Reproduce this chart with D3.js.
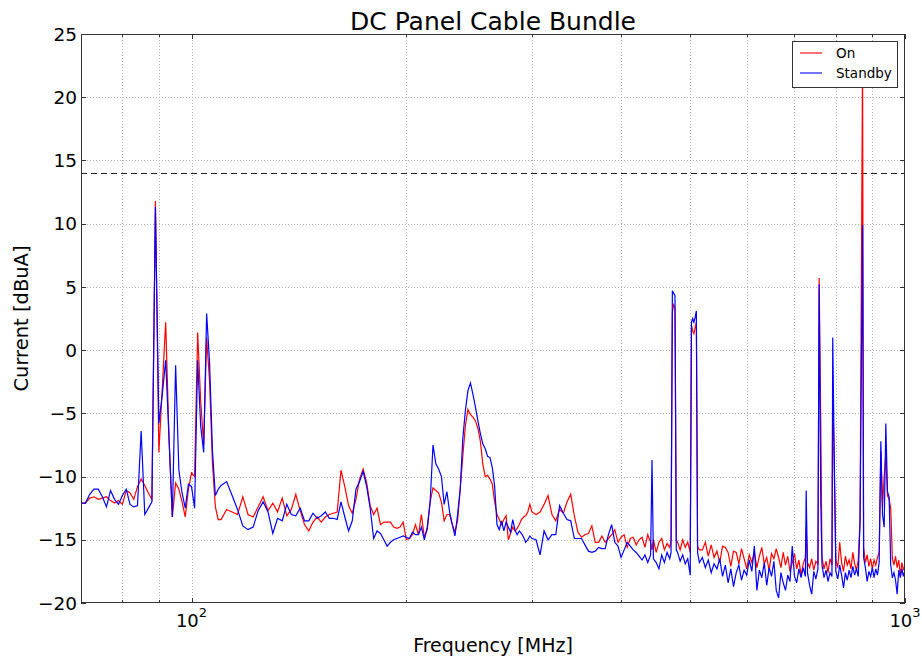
<!DOCTYPE html>
<html>
<head>
<meta charset="utf-8">
<script src="https://cdn.jsdelivr.net/npm/d3@7"></script>
<style>
  body { margin: 0; background: #fff; }
  text { font-family: "DejaVu Sans", sans-serif; fill: #000; }
</style>
</head>
<body>
<svg width="922" height="660"></svg>
<script>

// measurement frequencies [MHz]
var freqMHz = [
  70,71,72,73,74,75,76,77,78,79,80,81,82,83,84,85,86,87,88,89,90,91,92,93,94,95,96,97,98,99,100,101,102,103,104,105,106,107,108,109,110,
  112,114,116,118,120,122,124,126,128,130,132,134,136,138,140,142,144,146,148,150,152,154,156,158,160,162,164,166,168,170,
  172,174,176,178,180,182,184,186,188,190,192,194,196,198,200,202,204,206,208,210,212,214,216,218,220,222,224,226,228,230,
  232,234,236,238,240,242,244,246,248,250,252,254,256,258,260,262,264,266,268,270,272,274,276,278,280,282,284,286,288,290,
  292,294,296,298,300,
  304,308,312,316,320,324,328,332,336,340,344,348,352,356,360,364,368,372,376,380,384,388,392,396,400,404,408,412,416,420,
  424,428,432,436,440,442,444,448,452,456,460,464,468,
  470,472,474,476,478,480,484,488,492,496,500,502,504,506,508,510,512,515,
  520,525,530,535,540,545,550,555,560,565,570,575,580,585,590,595,600,605,610,615,620,625,630,635,640,645,650,655,660,665,
  670,675,680,685,690,695,700,705,710,715,720,725,727,730,735,740,745,750,755,758,762,765,770,775,780,785,790,792,
  795,800,805,810,815,820,825,830,835,840,845,850,855,860,865,872,
  875,880,885,890,895,900,905,910,915,920,925,930,935,940,945,950,955,960,965,970,975,980,985,990,995,1000
];

// "On" trace [dBuA]
var onDbuA = [
  -12.1,-12.1,-11.7,-11.6,-11.8,-11.7,-11.6,-11.9,-12.1,-11.9,-12.2,-11.1,-11.3,-11.8,-10.8,-10.2,-10.7,-11.3,-11.8,11.8,
  -8.1,-3.0,2.2,-7.0,-13.2,-10.5,-11.0,-12.0,-13.2,-11.0,-9.7,-10.0,1.4,-4.0,-7.5,1.0,-2.5,-9.0,-12.4,-13.4,-13.4,
  -12.6,-12.8,-13.0,-11.6,-13.0,-13.2,-12.4,-11.6,-12.7,-12.1,-12.8,-11.7,-13.1,-12.6,-11.4,-12.7,-13.8,-14.3,-13.6,-13.2,
  -13.6,-13.2,-13.0,-12.9,-12.8,-9.5,-10.8,-12.3,-12.9,-11.8,-10.2,-9.4,-10.5,-12.3,-13.0,-12.5,-13.8,-13.6,-13.6,-13.6,
  -14.0,-14.1,-14.0,-13.6,-15.0,-14.9,-14.6,-13.8,-14.6,-13.0,-14.8,-14.2,-12.0,-10.9,-11.1,-11.3,-12.0,-13.5,-13.0,-13.0,
  -13.8,-14.4,-13.5,-11.0,-8.4,-6.0,-4.7,-5.1,-5.3,-5.6,-6.2,-7.2,-9.0,-10.0,-9.9,-10.2,-10.6,-12.0,-13.0,-13.4,
  -13.8,-13.4,-13.1,-15.0,-14.5,-14.0,-14.3,-14.1,-13.8,-13.4,-13.2,-13.1,-12.8,-12.2,-12.8,
  -13.0,-12.8,-12.2,-11.5,-13.0,-13.5,-12.6,-12.9,-12.0,-11.4,-13.1,-14.4,-14.8,-14.6,-14.5,-13.9,-15.2,-15.2,-14.7,-15.2,
  -14.9,-14.6,-14.2,-15.2,-14.8,-14.6,-15.6,-14.9,-14.8,-15.4,-15.0,-14.8,-15.6,-14.6,-15.2,-15.8,-15.0,-16.0,-15.2,-14.9,
  -15.8,-15.3,-15.6,
  -15.0,3.0,3.6,3.4,-15.0,-15.2,-15.8,-15.0,-15.6,-15.2,-16.0,2.0,1.5,1.3,1.8,2.2,-15.5,-15.8,
  -15.8,-15.2,-16.3,-15.4,-16.4,-15.9,-16.8,-15.5,-15.6,-16.0,-17.1,-15.9,-16.0,-16.9,-15.7,-16.5,-17.3,-16.2,-16.8,-16.0,
  -17.2,-16.3,-15.6,-16.9,-16.4,-17.4,-16.1,-16.5,-15.7,-16.4,-17.2,-16.0,-17.0,-16.3,-17.5,-16.8,-16.1,-17.3,-16.6,-17.8,
  -16.9,-16.4,-14.0,-16.8,-17.2,-16.5,-17.4,-16.7,-16.9,5.7,-5.8,-16.4,-17.3,-16.7,-17.6,-16.5,-17.0,-3.0,
  -8.0,-16.6,-17.2,-15.2,-16.8,-17.5,-16.3,-17.0,-16.6,-17.3,-16.0,-16.9,-17.4,-16.6,-13.5,23.0,
  -15.6,-16.8,-16.2,-17.1,-16.5,-17.3,-16.6,-17.0,-16.4,-16.0,-8.0,-12.4,-10.0,-8.2,-11.5,-11.8,-12.5,-16.5,
  -17.0,-16.3,-17.2,-16.6,-17.8,-16.8,-17.4,-17.0
];

// "Standby" trace [dBuA]
var standbyDbuA = [
  -12.1,-12.1,-11.4,-11.0,-11.0,-11.6,-12.4,-11.1,-11.8,-12.2,-11.5,-11.0,-12.2,-12.4,-12.3,-6.4,-13.0,-12.5,-12.0,11.3,
  -5.8,-3.5,-0.8,-7.0,-13.2,-1.2,-9.5,-11.3,-12.5,-10.6,-10.8,-12.5,-0.8,-6.0,-8.1,2.9,-1.0,-8.0,-11.5,-11.0,-10.7,
  -10.4,-11.5,-12.6,-13.9,-14.2,-14.0,-12.7,-12.0,-12.8,-14.5,-13.3,-13.5,-12.2,-13.0,-13.1,-12.5,-13.5,-13.5,-12.9,-13.3,
  -13.1,-12.8,-13.3,-13.3,-13.4,-12.0,-13.2,-14.3,-13.5,-11.0,-10.4,-9.6,-10.8,-12.5,-14.9,-14.3,-14.5,-15.0,-15.5,-15.2,
  -15.0,-14.9,-14.8,-14.7,-14.8,-14.9,-14.4,-14.6,-14.6,-14.0,-15.0,-14.0,-12.0,-7.5,-9.0,-9.4,-10.0,-12.2,-11.2,-12.8,
  -13.8,-14.7,-13.0,-11.0,-7.0,-4.8,-3.2,-2.6,-3.5,-4.5,-5.6,-6.6,-7.4,-7.8,-8.4,-8.5,-9.3,-10.8,-13.8,-14.2,
  -13.5,-14.3,-13.6,-14.0,-14.4,-13.4,-14.2,-14.6,-14.3,-14.5,-14.8,-15.2,-15.0,-14.7,-14.9,
  -15.0,-16.2,-14.3,-15.0,-14.6,-14.6,-12.3,-12.9,-13.4,-13.5,-14.9,-14.9,-14.9,-15.4,-15.9,-16.0,-15.9,-15.6,-15.7,-15.7,
  -14.6,-13.8,-15.2,-15.5,-16.4,-15.8,-15.2,-15.5,-15.8,-16.0,-16.3,-16.6,-16.2,-16.8,-16.2,-8.7,-16.5,-16.8,-17.3,-16.2,
  -16.8,-16.0,-16.5,
  -16.0,4.7,4.5,4.3,-15.8,-16.0,-16.7,-16.2,-16.9,-16.5,-17.8,2.2,2.5,2.2,2.6,3.1,-16.0,-16.8,
  -16.4,-17.2,-16.6,-17.6,-16.9,-17.3,-16.5,-17.9,-17.0,-18.4,-17.3,-18.7,-17.6,-17.0,-18.2,-17.4,-17.8,-16.6,-17.5,-15.5,
  -19.0,-17.4,-18.0,-16.8,-18.6,-17.2,-17.9,-16.7,-19.0,-19.6,-17.6,-18.4,-19.0,-17.8,-18.3,-15.5,-17.9,-18.4,-17.3,-18.0,
  -17.2,-17.9,-11.1,-17.6,-18.6,-19.3,-17.5,-18.1,-17.3,5.2,-12.0,-17.0,-18.0,-17.4,-18.3,-17.6,-17.9,1.0,
  -6.5,-17.5,-18.1,-17.0,-17.8,-18.8,-17.6,-18.2,-17.4,-18.0,-17.1,-17.8,-17.3,-17.9,-13.5,9.9,
  -16.4,-17.2,-18.3,-17.5,-17.9,-17.2,-18.0,-17.3,-17.8,-16.8,-7.2,-13.0,-14.0,-5.8,-11.2,-11.6,-17.0,-18.0,
  -17.6,-18.2,-19.3,-17.4,-18.0,-17.3,-17.9,-17.4
];

var seriesNames = ["On", "Standby"];
var seriesColors = ["#ff0000", "#0000ff"];
var limitDbuA = 14;
var yTicks = [-20, -15, -10, -5, 0, 5, 10, 15, 20, 25];
var xMajor = [100, 1000];
var xMinor = [80, 90, 200, 300, 400, 500, 600, 700, 800, 900];

var svg = d3.select("svg"),
    plotL = 81, plotR = 905, plotT = 34, plotB = 603;

var x = d3.scaleLog().domain([70, 1000]).range([plotL, plotR]);
var y = d3.scaleLinear().domain([-20, 25]).range([plotB, plotT]);

var data = freqMHz.map(function(f, i) {
    return { f: f, on: onDbuA[i], sb: standbyDbuA[i] };
});

function fmt(d) { return d < 0 ? "\u2212" + Math.abs(d) : "" + d; }

/* --------- grid --------- */
var grid = svg.append("g")
    .attr("stroke", "#b4b4b4")
    .attr("stroke-width", 1)
    .attr("stroke-dasharray", "1,2")
    .attr("shape-rendering", "crispEdges");

grid.selectAll(".vx")
    .data(xMinor.concat([100]))
    .enter().append("line")
    .attr("x1", function(d) { return Math.round(x(d)) + 0.5; })
    .attr("x2", function(d) { return Math.round(x(d)) + 0.5; })
    .attr("y1", plotT).attr("y2", plotB);

grid.selectAll(".hy")
    .data(yTicks.slice(1, -1))
    .enter().append("line")
    .attr("x1", plotL).attr("x2", plotR)
    .attr("y1", function(d) { return Math.round(y(d)) + 0.5; })
    .attr("y2", function(d) { return Math.round(y(d)) + 0.5; });

/* --------- limit line --------- */
svg.append("line")
    .attr("x1", plotL).attr("x2", plotR)
    .attr("y1", Math.round(y(limitDbuA)) + 0.5).attr("y2", Math.round(y(limitDbuA)) + 0.5)
    .attr("stroke", "#222")
    .attr("stroke-width", 1)
    .attr("stroke-dasharray", "6,4");

/* --------- traces --------- */
svg.append("clipPath").attr("id", "plotclip")
    .append("rect").attr("x", plotL).attr("y", plotT)
    .attr("width", plotR - plotL).attr("height", plotB - plotT);

var keys = ["on", "sb"];
keys.forEach(function(k, i) {
    var line = d3.line()
        .x(function(d) { return x(d.f); })
        .y(function(d) { return y(d[k]); });
    svg.append("path")
        .datum(data)
        .attr("clip-path", "url(#plotclip)")
        .attr("fill", "none")
        .attr("stroke", seriesColors[i])
        .attr("stroke-width", 1.2)
        .attr("stroke-linejoin", "miter")
        .attr("d", line);
});

/* --------- frame + ticks (inward, all sides) --------- */
svg.append("rect")
    .attr("x", plotL + 0.5).attr("y", plotT + 0.5)
    .attr("width", plotR - plotL - 1).attr("height", plotB - plotT - 1)
    .attr("fill", "none")
    .attr("stroke", "#333")
    .attr("stroke-width", 1);

var ticks = svg.append("g").attr("stroke", "#333").attr("stroke-width", 1);
yTicks.forEach(function(d) {
    var yy = Math.round(y(d)) + 0.5;
    ticks.append("line").attr("x1", plotL).attr("x2", plotL + 5).attr("y1", yy).attr("y2", yy);
    ticks.append("line").attr("x1", plotR - 5).attr("x2", plotR).attr("y1", yy).attr("y2", yy);
});
xMajor.concat(xMinor).forEach(function(d) {
    var xx = Math.round(x(d)) + 0.5,
        len = xMajor.indexOf(d) >= 0 ? 5 : 3;
    ticks.append("line").attr("x1", xx).attr("x2", xx).attr("y1", plotB - len).attr("y2", plotB);
    ticks.append("line").attr("x1", xx).attr("x2", xx).attr("y1", plotT).attr("y2", plotT + len);
});

/* --------- tick labels --------- */
svg.append("g").selectAll("text")
    .data(yTicks)
    .enter().append("text")
    .attr("x", 77)
    .attr("y", function(d) { return y(d); })
    .attr("dy", "0.36em")
    .attr("text-anchor", "end")
    .attr("font-size", 18.5)
    .text(fmt);

var xl = svg.append("g").selectAll("text")
    .data(xMajor)
    .enter().append("text")
    .attr("x", function(d) { return x(d); })
    .attr("y", 627)
    .attr("text-anchor", "middle")
    .attr("font-size", 18);
xl.append("tspan").text("10");
xl.append("tspan")
    .attr("font-size", 13)
    .attr("dy", -10)
    .text(function(d) { return "" + Math.round(Math.log10(d)); });

/* --------- titles --------- */
svg.append("text")
    .attr("x", (plotL + plotR) / 2).attr("y", 30)
    .attr("text-anchor", "middle")
    .attr("font-size", 25)
    .text("DC Panel Cable Bundle");

svg.append("text")
    .attr("x", (plotL + plotR) / 2).attr("y", 652)
    .attr("text-anchor", "middle")
    .attr("font-size", 19)
    .text("Frequency [MHz]");

svg.append("text")
    .attr("transform", "translate(28," + ((plotT + plotB) / 2) + ") rotate(-90)")
    .attr("text-anchor", "middle")
    .attr("font-size", 19.5)
    .text("Current [dBuA]");

/* --------- legend --------- */
var legend = svg.append("g");
legend.append("rect")
    .attr("x", 792.5).attr("y", 41.5)
    .attr("width", 105).attr("height", 46)
    .attr("fill", "#fff")
    .attr("stroke", "#333");

var items = legend.selectAll(".item")
    .data(seriesNames)
    .enter().append("g")
    .attr("transform", function(d, i) { return "translate(0," + (53 + i * 20) + ")"; });
items.append("line")
    .attr("x1", 800).attr("x2", 822)
    .attr("stroke", function(d, i) { return seriesColors[i]; })
    .attr("stroke-width", 1.1);
items.append("text")
    .attr("x", 836)
    .attr("dy", "0.36em")
    .attr("font-size", 13.5)
    .text(function(d) { return d; });

</script>
</body>
</html>
